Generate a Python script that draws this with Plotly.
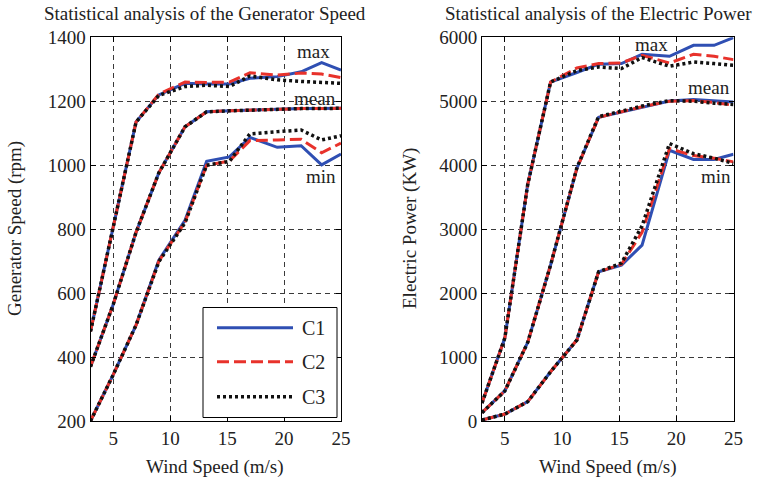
import plotly.graph_objects as go

# ---------------- data ----------------
wind_speed = [3, 5, 7, 9, 11.3, 13.2, 15.2, 17, 19.4, 21.5, 23.3, 25]
series_names = ["C1", "C2", "C3"]

# Generator speed (rpm)
gen_max_c1 = [480, 810, 1135, 1220, 1256, 1254, 1254, 1272, 1277, 1292, 1321, 1297]
gen_max_c2 = [480, 810, 1135, 1222, 1260, 1259, 1260, 1289, 1282, 1288, 1285, 1274]
gen_max_c3 = [480, 810, 1135, 1218, 1246, 1250, 1246, 1279, 1267, 1262, 1258, 1256]
gen_mean_c1 = [370, 565, 790, 976, 1120, 1167, 1170, 1172, 1176, 1177, 1177, 1178]
gen_mean_c2 = [370, 565, 790, 976, 1120, 1167, 1170, 1172, 1176, 1177, 1177, 1178]
gen_mean_c3 = [370, 565, 790, 976, 1120, 1167, 1170, 1172, 1176, 1177, 1177, 1178]
gen_min_c1 = [200, 345, 500, 703, 828, 1012, 1026, 1087, 1056, 1061, 1001, 1035]
gen_min_c2 = [200, 345, 500, 700, 822, 1000, 1013, 1077, 1079, 1081, 1039, 1069]
gen_min_c3 = [200, 345, 500, 698, 820, 1000, 1012, 1098, 1105, 1110, 1079, 1092]

# Electric power (KW)
pow_max_c1 = [280, 1300, 3700, 5300, 5450, 5580, 5589, 5734, 5703, 5875, 5875, 5995]
pow_max_c2 = [280, 1300, 3700, 5300, 5520, 5590, 5600, 5720, 5598, 5734, 5703, 5651]
pow_max_c3 = [280, 1300, 3700, 5300, 5480, 5536, 5511, 5683, 5547, 5614, 5589, 5562]
pow_mean_c1 = [130, 470, 1230, 2440, 3950, 4750, 4830, 4910, 5005, 5026, 5010, 4990]
pow_mean_c2 = [130, 470, 1230, 2440, 3950, 4750, 4835, 4915, 5000, 5010, 4980, 4937]
pow_mean_c3 = [130, 470, 1230, 2440, 3960, 4760, 4845, 4925, 5010, 5000, 4970, 4950]
pow_min_c1 = [16, 109, 302, 770, 1266, 2333, 2437, 2750, 4234, 4089, 4089, 4172]
pow_min_c2 = [16, 109, 302, 770, 1266, 2333, 2450, 2950, 4260, 4150, 4110, 4052]
pow_min_c3 = [16, 109, 302, 770, 1266, 2333, 2470, 3050, 4339, 4180, 4110, 4026]

x_ticks = [5, 10, 15, 20, 25]
gen_ticks = [200, 400, 600, 800, 1000, 1200, 1400]
pow_ticks = [0, 1000, 2000, 3000, 4000, 5000, 6000]

# ---------------- styles ----------------
FONT = "Liberation Serif, Times New Roman, serif"
styles = {
    "C1": dict(color="#2f4fb3", width=3, dash="solid"),
    "C2": dict(color="#e8322b", width=3, dash="12px,5px"),
    "C3": dict(color="#111111", width=3.5, dash="3px,3px"),
}

W, H = 762, 482
def px_x(p):
    return p / W
def px_y(p):
    return 1 - p / H

L_DOM = [px_x(90.5), px_x(341)]
R_DOM = [px_x(482), px_x(733.5)]
Y_DOM = [px_y(421), px_y(37.3)]

fig = go.Figure()

groups = [
    ("x", "y", [gen_max_c1, gen_max_c2, gen_max_c3]),
    ("x", "y", [gen_mean_c1, gen_mean_c2, gen_mean_c3]),
    ("x", "y", [gen_min_c1, gen_min_c2, gen_min_c3]),
    ("x2", "y2", [pow_max_c1, pow_max_c2, pow_max_c3]),
    ("x2", "y2", [pow_mean_c1, pow_mean_c2, pow_mean_c3]),
    ("x2", "y2", [pow_min_c1, pow_min_c2, pow_min_c3]),
]
# draw C1 first, then C2, then C3 on top
for k, name in enumerate(series_names):
    for xa, ya, ser in groups:
        fig.add_trace(go.Scatter(
            x=wind_speed, y=ser[k], mode="lines", name=name,
            xaxis=xa, yaxis=ya, showlegend=False,
            line=styles[name],
        ))

axis_common = dict(
    showline=True, linecolor="black", linewidth=1, mirror="ticks",
    ticks="inside", ticklen=5, tickcolor="black", automargin=False,
    showgrid=True, gridcolor="#3a3a3a", gridwidth=1, griddash="5px,4px",
    zeroline=False, tickfont=dict(family=FONT, size=19, color="#222"),
)

fig.update_layout(
    template="none",
    width=W, height=H,
    margin=dict(l=0, r=0, t=0, b=0, pad=0, autoexpand=False),
    paper_bgcolor="white", plot_bgcolor="white",
    showlegend=False,
    xaxis=dict(domain=L_DOM, range=[3, 25], tickvals=x_ticks, anchor="y", **axis_common),
    yaxis=dict(domain=Y_DOM, range=[200, 1400], tickvals=gen_ticks, anchor="x", **axis_common),
    xaxis2=dict(domain=R_DOM, range=[3, 25], tickvals=x_ticks, anchor="y2", **axis_common),
    yaxis2=dict(domain=Y_DOM, range=[0, 6000], tickvals=pow_ticks, anchor="x2", **axis_common),
)

txt = dict(family=FONT, size=19, color="#222")
ann = []
def paper_text(text, x, y, **kw):
    d = dict(text=text, x=px_x(x), y=px_y(y), xref="paper", yref="paper",
             xanchor="center", yanchor="middle", showarrow=False, font=txt)
    d.update(kw)
    return d

# titles
ann.append(paper_text("Statistical analysis of the Generator Speed", 205, 13))
ann.append(paper_text("Statistical analysis of the Electric Power", 598, 13))
# axis titles
ann.append(paper_text("Wind Speed (m/s)", 215.5, 467))
ann.append(paper_text("Wind Speed (m/s)", 608, 467))
ann.append(paper_text("Generator Speed (rpm)", 15, 229, textangle=-90))
ann.append(paper_text("Electric Power (KW)", 410, 229, textangle=-90))
# curve labels
for t, x, y, xr, yr in [
    ("max", 22.6, 1357, "x", "y"), ("mean", 22.7, 1210, "x", "y"), ("min", 23.2, 966, "x", "y"),
    ("max", 17.8, 5890, "x2", "y2"), ("mean", 22.9, 5219, "x2", "y2"), ("min", 23.5, 3828, "x2", "y2"),
]:
    ann.append(dict(text=t, x=x, y=y, xref=xr, yref=yr, xanchor="center", yanchor="middle",
                    showarrow=False, font=txt))

# manual legend (box, line samples, labels)
shapes = [dict(type="rect", xref="paper", yref="paper",
               x0=px_x(203), x1=px_x(337), y0=px_y(417.5), y1=px_y(307.5),
               line=dict(color="black", width=1), fillcolor="white", layer="above")]
row_y = [327.7, 361.7, 396.7]
for name, ry in zip(series_names, row_y):
    st = styles[name]
    shapes.append(dict(type="line", xref="paper", yref="paper",
                       x0=px_x(217), x1=px_x(293), y0=px_y(ry), y1=px_y(ry),
                       line=dict(color=st["color"], width=st["width"], dash=st["dash"]),
                       layer="above"))
    ann.append(paper_text(name, 300, ry, xanchor="left",
                          font=dict(family=FONT, size=20, color="#222")))

fig.update_layout(annotations=ann, shapes=shapes)
fig.write_html("out.html")
